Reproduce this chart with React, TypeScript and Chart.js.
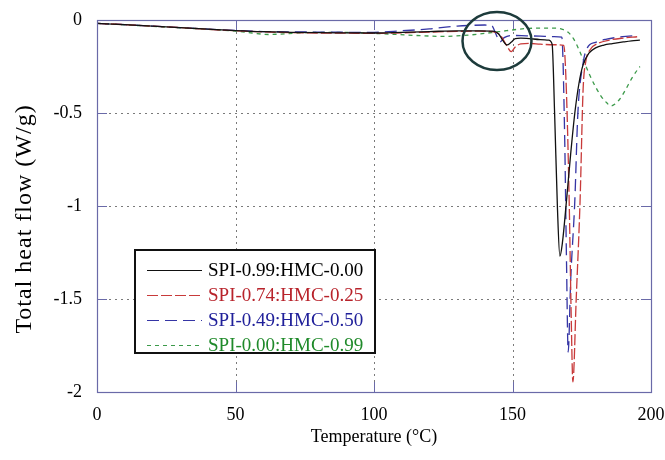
import React, { useEffect, useRef } from "react";
import { Chart, registerables } from "chart.js";

Chart.register(...registerables);

// ---- Data ----
const X_TICKS = [0, 50, 100, 150, 200];
const Y_TICKS = [0, -0.5, -1, -1.5, -2];
const X_TITLE = "Temperature (°C)";
const Y_TITLE = "Total heat flow (W/g)";

const LABELS = [
  "SPI-0.99:HMC-0.00",
  "SPI-0.74:HMC-0.25",
  "SPI-0.49:HMC-0.50",
  "SPI-0.00:HMC-0.99",
];

const blackT = [0, 10, 20, 30, 40, 50, 60, 70, 80, 90, 100, 110, 120, 130, 138, 143, 145, 146.5, 148, 149.5, 151, 153, 156, 160, 163, 164.3, 165.2, 166.2, 167.1, 168, 169.5, 171, 172.5, 174, 175.5, 177.5, 180, 183, 186, 190, 193, 196];
const blackHF = [-0.018, -0.025, -0.033, -0.041, -0.049, -0.057, -0.063, -0.066, -0.068, -0.069, -0.07, -0.066, -0.062, -0.058, -0.058, -0.06, -0.075, -0.11, -0.134, -0.12, -0.1, -0.097, -0.1, -0.105, -0.108, -0.13, -0.5, -1.0, -1.27, -1.2, -0.97, -0.72, -0.5, -0.34, -0.24, -0.18, -0.15, -0.135, -0.127, -0.118, -0.112, -0.108];

const redT = [0, 10, 20, 30, 40, 50, 60, 70, 80, 90, 100, 110, 120, 130, 138, 144, 146, 148, 149.5, 151, 153, 156, 160, 165, 168.5, 169.5, 170.5, 171.2, 171.8, 173, 174.4, 175.5, 176.5, 178, 181, 185, 190, 195];
const redHF = [-0.018, -0.025, -0.033, -0.041, -0.05, -0.058, -0.064, -0.068, -0.07, -0.071, -0.072, -0.069, -0.065, -0.061, -0.06, -0.066, -0.09, -0.14, -0.17, -0.145, -0.128, -0.126, -0.13, -0.133, -0.136, -0.4, -1.0, -1.6, -1.946, -1.5, -0.97, -0.37, -0.22, -0.16, -0.125, -0.108, -0.097, -0.09];

const blueT = [0, 10, 20, 30, 40, 50, 60, 70, 80, 90, 100, 110, 120, 125, 130, 135, 140, 142.5, 144, 145.5, 147, 150, 155, 160, 165, 167.8, 168.8, 169.5, 170.1, 171, 172.5, 173.6, 175.5, 177, 180, 184, 188, 192, 195];
const blueHF = [-0.018, -0.025, -0.033, -0.041, -0.049, -0.056, -0.062, -0.064, -0.065, -0.066, -0.066, -0.058, -0.048, -0.04, -0.033, -0.029, -0.027, -0.03, -0.075, -0.118, -0.095, -0.083, -0.085, -0.087, -0.089, -0.092, -0.6, -1.3, -1.785, -1.4, -0.97, -0.5, -0.23, -0.15, -0.12, -0.103, -0.093, -0.087, -0.083];

const greenT = [0, 10, 20, 30, 40, 50, 56, 62, 68, 75, 85, 100, 115, 125, 135, 145, 152, 156, 160, 166, 168, 170, 172, 174, 176, 178, 180, 182, 184, 185.5, 187, 189, 191, 193, 195, 196];
const greenHF = [-0.018, -0.026, -0.034, -0.042, -0.05, -0.06, -0.07, -0.078, -0.074, -0.068, -0.066, -0.072, -0.083, -0.088, -0.08, -0.063, -0.05, -0.045, -0.044, -0.044, -0.05, -0.065, -0.1, -0.16, -0.23, -0.3, -0.36, -0.41, -0.445, -0.462, -0.452, -0.42, -0.37, -0.315, -0.27, -0.25];

// ---- Styles ----
const LINE_COLORS = ["#111111", "#c83a3a", "#3535a5", "#3c9a4a"];
const TEXT_COLORS = ["#000000", "#b8232b", "#20209a", "#1f8a2a"];
const DASHES: number[][] = [[], [11, 3], [12, 6], [4, 4]];
const FONT = "'Liberation Serif', 'Times New Roman', serif";
const FRAME = "#6a6aa8";
const ELLIPSE = { cx: 144.4, cy: -0.113, rx: 12.45, ry: 0.156 };

const series = [
  [blackT, blackHF],
  [redT, redHF],
  [blueT, blueHF],
  [greenT, greenHF],
];

const decorPlugin = {
  id: "decor",
  beforeDatasetsDraw(chart: any) {
    const { ctx, chartArea: ca, scales } = chart;
    const x = scales.x, y = scales.y;
    ctx.save();
    // dotted grid
    ctx.strokeStyle = "#7a7a7a";
    ctx.lineWidth = 1;
    ctx.setLineDash([2, 4]);
    X_TICKS.slice(1, -1).forEach((v) => {
      const px = Math.round(x.getPixelForValue(v)) + 0.5;
      ctx.beginPath();
      ctx.moveTo(px, ca.top);
      ctx.lineTo(px, ca.bottom);
      ctx.stroke();
    });
    Y_TICKS.slice(1, -1).forEach((v) => {
      const py = Math.round(y.getPixelForValue(v)) + 0.5;
      ctx.beginPath();
      ctx.moveTo(ca.left, py);
      ctx.lineTo(ca.right, py);
      ctx.stroke();
    });
    ctx.setLineDash([]);
    // inner tick marks
    ctx.strokeStyle = FRAME;
    X_TICKS.slice(1, -1).forEach((v) => {
      const px = Math.round(x.getPixelForValue(v)) + 0.5;
      ctx.beginPath();
      ctx.moveTo(px, ca.top);
      ctx.lineTo(px, ca.top + 10);
      ctx.moveTo(px, ca.bottom);
      ctx.lineTo(px, ca.bottom - 10);
      ctx.stroke();
    });
    Y_TICKS.slice(1, -1).forEach((v) => {
      const py = Math.round(y.getPixelForValue(v)) + 0.5;
      ctx.beginPath();
      ctx.moveTo(ca.left, py);
      ctx.lineTo(ca.left + 10, py);
      ctx.moveTo(ca.right, py);
      ctx.lineTo(ca.right - 10, py);
      ctx.stroke();
    });
    ctx.restore();
  },
  afterDraw(chart: any) {
    const { ctx, chartArea: ca, scales } = chart;
    const x = scales.x, y = scales.y;
    ctx.save();
    // frame
    ctx.strokeStyle = FRAME;
    ctx.lineWidth = 1.2;
    ctx.strokeRect(Math.round(ca.left) + 0.5, Math.round(ca.top) + 0.5, Math.round(ca.right - ca.left), Math.round(ca.bottom - ca.top));

    // y axis title
    ctx.save();
    ctx.translate(25, (ca.top + ca.bottom) / 2 + 13);
    ctx.rotate(-Math.PI / 2);
    ctx.font = `24px ${FONT}`;
    (ctx as any).letterSpacing = "1px";
    ctx.fillStyle = "#000";
    ctx.textAlign = "center";
    ctx.textBaseline = "middle";
    ctx.fillText(Y_TITLE, 0, 0);
    ctx.restore();

    // ellipse annotation
    const cx = x.getPixelForValue(ELLIPSE.cx);
    const cy = y.getPixelForValue(ELLIPSE.cy);
    const rx = x.getPixelForValue(ELLIPSE.cx + ELLIPSE.rx) - cx;
    const ry = y.getPixelForValue(ELLIPSE.cy - ELLIPSE.ry) - cy;
    ctx.strokeStyle = "#1d3b3b";
    ctx.lineWidth = 2.5;
    ctx.beginPath();
    ctx.ellipse(cx, cy, rx, ry, 0, 0, Math.PI * 2);
    ctx.stroke();

    // legend box
    const left = ca.left + 38;
    const top = ca.top + 230;
    const w = 240;
    const h = 103;
    ctx.fillStyle = "#ffffff";
    ctx.fillRect(left, top, w, h);
    ctx.strokeStyle = "#111111";
    ctx.lineWidth = 2;
    ctx.strokeRect(left, top, w, h);
    ctx.font = `19px ${FONT}`;
    ctx.textBaseline = "middle";
    ctx.textAlign = "left";
    LABELS.forEach((lab, i) => {
      const ry2 = top + 20 + i * 25;
      ctx.strokeStyle = LINE_COLORS[i];
      ctx.lineWidth = 1.2;
      ctx.setLineDash(DASHES[i]);
      ctx.beginPath();
      ctx.moveTo(left + 12, ry2 + 0.5);
      ctx.lineTo(left + 67, ry2 + 0.5);
      ctx.stroke();
      ctx.setLineDash([]);
      ctx.fillStyle = TEXT_COLORS[i];
      ctx.fillText(lab, left + 73, ry2 + 1);
    });
    ctx.restore();
  },
};

export default function App() {
  const ref = useRef<HTMLCanvasElement | null>(null);
  useEffect(() => {
    document.body.style.margin = "0";
    const canvas = ref.current;
    if (!canvas) return;
    const chart = new Chart(canvas, {
      type: "line",
      data: {
        datasets: series.map(([ts, hs], i) => ({
          label: LABELS[i],
          data: ts.map((t, k) => ({ x: t, y: hs[k] })),
          borderColor: LINE_COLORS[i],
          borderWidth: 1.3,
          borderDash: DASHES[i],
          pointRadius: 0,
          fill: false,
          cubicInterpolationMode: "monotone" as const,
        })),
      },
      options: {
        animation: false,
        responsive: false,
        devicePixelRatio: 1,
        layout: { padding: { left: 0, top: 20, right: 14, bottom: 0 } },
        plugins: {
          legend: { display: false },
          tooltip: { enabled: false },
        },
        scales: {
          x: {
            type: "linear",
            min: 0,
            max: 200,
            afterBuildTicks: (s: any) => {
              s.ticks = X_TICKS.map((v) => ({ value: v }));
            },
            afterFit: (s: any) => {
              s.height = 68;
              s.paddingLeft = 0;
              s.paddingRight = 0;
            },
            grid: { display: false, drawTicks: false },
            border: { display: false },
            ticks: {
              color: "#000",
              padding: 12,
              maxRotation: 0,
              font: { family: FONT, size: 18 },
              callback: (v: any) => String(v),
            },
            title: {
              display: true,
              text: X_TITLE,
              color: "#000",
              font: { family: FONT, size: 18 },
              padding: { top: 0, bottom: 12 },
            },
          },
          y: {
            type: "linear",
            min: -2,
            max: 0,
            afterBuildTicks: (s: any) => {
              s.ticks = Y_TICKS.map((v) => ({ value: v }));
            },
            afterFit: (s: any) => {
              s.width = 97;
              s.paddingTop = 0;
              s.paddingBottom = 0;
            },
            grid: { display: false, drawTicks: false },
            border: { display: false },
            ticks: {
              color: "#000",
              padding: 15,
              font: { family: FONT, size: 18 },
              callback: (v: any) => String(v),
            },
            title: { display: false },
          },
        },
      },
      plugins: [decorPlugin],
    } as any);
    return () => chart.destroy();
  }, []);
  return (
    <div style={{ position: "absolute", left: 0, top: 0, width: 665, height: 460, background: "#fff" }}>
      <canvas ref={ref} width={665} height={460} />
    </div>
  );
}
